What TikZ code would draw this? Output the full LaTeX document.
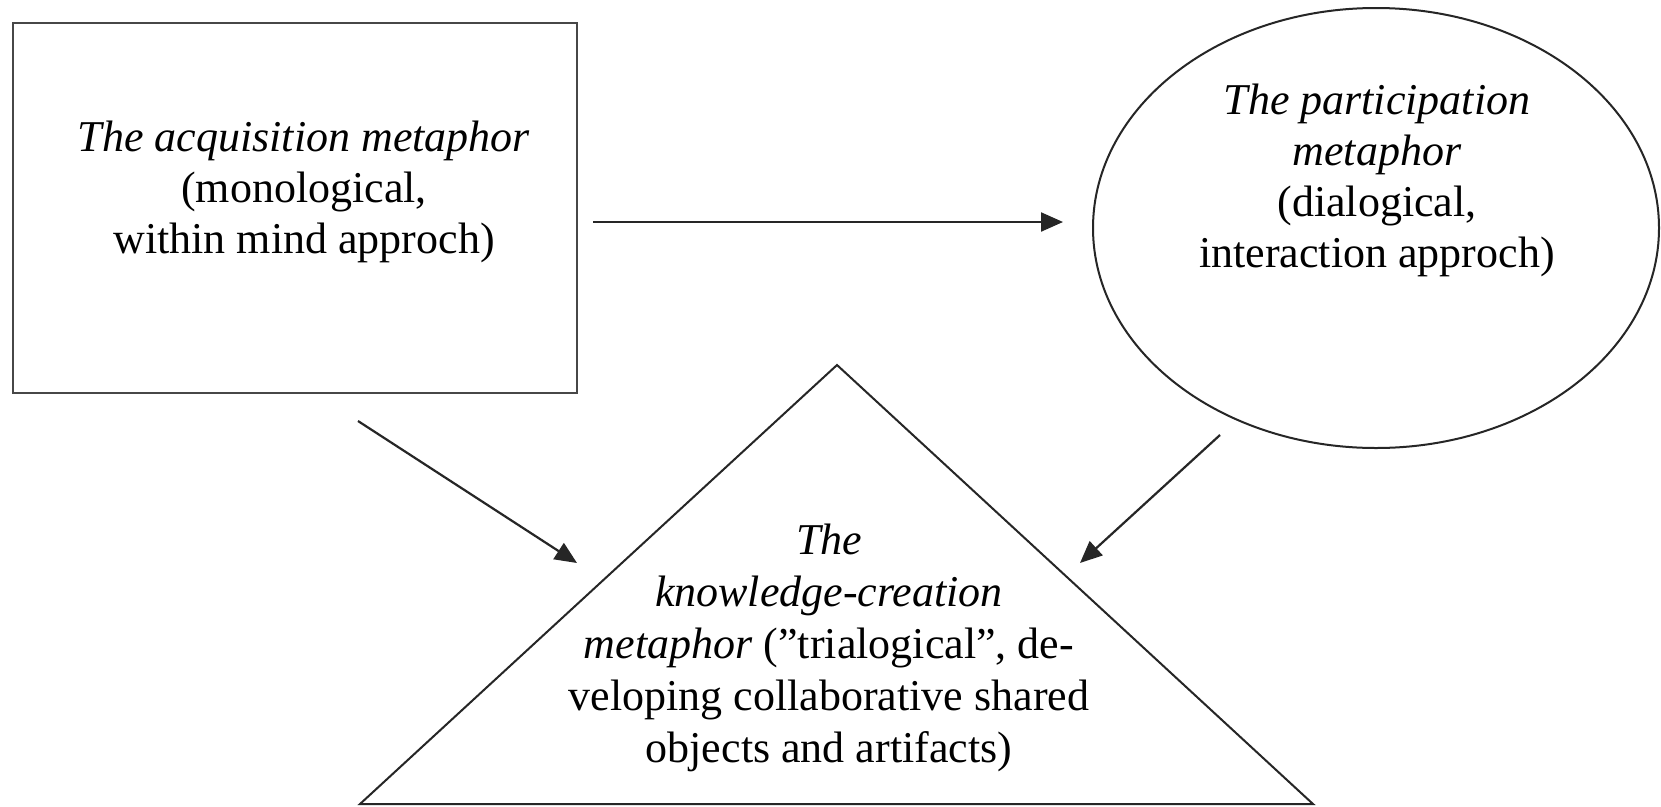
\documentclass[tikz,border=0pt]{standalone}
\usepackage{fontspec}
\setmainfont{Liberation Serif}
\usetikzlibrary{shapes.geometric, arrows.meta}
\begin{document}
\begin{tikzpicture}[x=1pt, y=-1pt,
  boxline/.style={line width=2.4pt, draw=black!72},
  shapeline/.style={line width=2pt, draw=black!85},
  conn/.style={line width=2.2pt, draw=black!85, -{Triangle[length=22pt,width=19pt]}},
  txt/.style={align=center, inner sep=0pt, anchor=base, font=\fontsize{44pt}{51pt}\selectfont}]
\useasboundingbox (0,0) rectangle (1661,806);
\fill[white] (0,0) rectangle (1661,806);

% acquisition metaphor box
\node[boxline, rectangle, minimum width=564pt, minimum height=370pt, inner sep=0pt] (acq) at (295,208) {};
\node[txt] (acqtext) at (304,253) {\textit{The acquisition metaphor}\\(monological,\\within mind approch)};

% participation metaphor ellipse
\node[shapeline, ellipse, minimum width=566pt, minimum height=440pt, inner sep=0pt] (part) at (1376,228) {};
\node[txt] (parttext) at (1377,267) {\textit{The participation}\\\textit{metaphor}\\(dialogical,\\interaction approch)};

% knowledge-creation triangle
\coordinate (tapex) at (837,365);
\coordinate (tleft) at (360,804);
\coordinate (tright) at (1313,804);
\draw[shapeline, line join=miter] (tapex) -- (tright) -- (tleft) -- cycle;
\node[txt, font=\fontsize{44pt}{52pt}\selectfont] (kctext) at (829,762) {\textit{The}\\\textit{knowledge-creation}\\\textit{metaphor} (”trialogical”, de-\\veloping collaborative shared\\objects and artifacts)};

% connectors
\coordinate (h1) at (593,222);
\coordinate (h2) at (1063,222);
\coordinate (l1) at (358,421);
\coordinate (l2) at (577,563);
\coordinate (r1) at (1220,435);
\coordinate (r2) at (1080,563);
\draw[conn] (h1) -- (h2);
\draw[conn] (l1) -- (l2);
\draw[conn] (r1) -- (r2);
\end{tikzpicture}
\end{document}
